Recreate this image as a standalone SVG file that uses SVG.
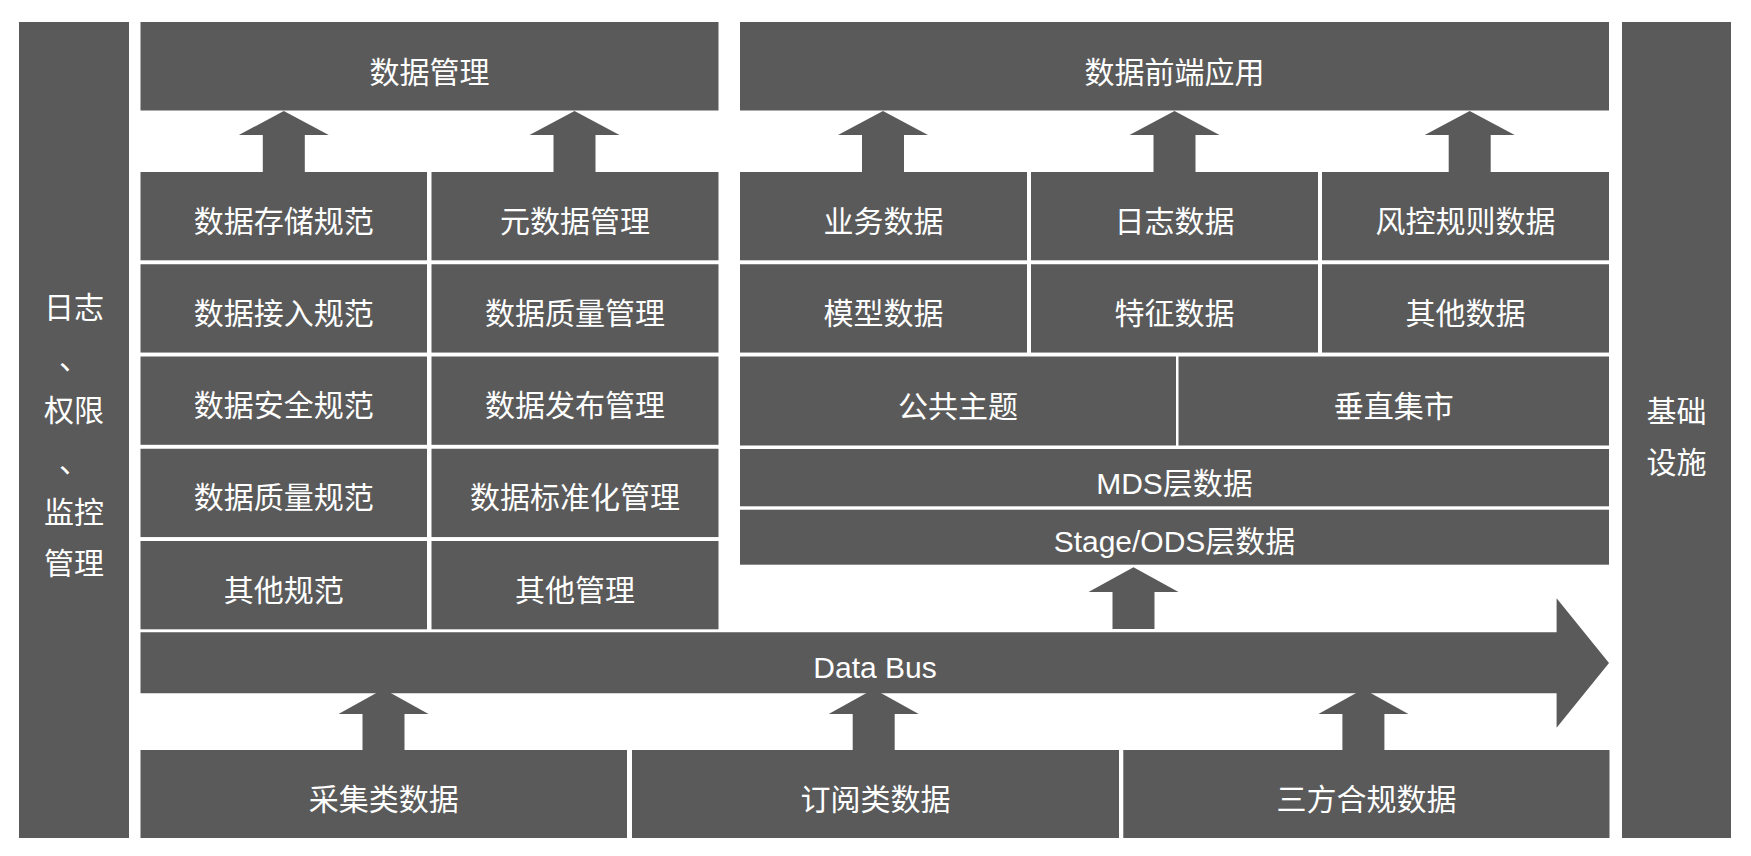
<svg xmlns="http://www.w3.org/2000/svg" width="1751" height="856" viewBox="0 0 1751 856">
<style>
.b{fill:#5a5a5a}
.a{fill:#5a5a5a}
text{fill:#ffffff;font-family:"Liberation Sans","Noto Sans CJK SC",sans-serif;font-size:30px;text-anchor:middle}
</style>
<rect width="1751" height="856" fill="#ffffff"/>
<g id="side-left"><rect class="b" x="19" y="22" width="110" height="816"/>
<text x="74" y="318">日志</text><text x="74" y="369">、</text><text x="74" y="421">权限</text><text x="74" y="472">、</text><text x="74" y="523">监控</text><text x="74" y="574">管理</text></g>
<g id="side-right"><rect class="b" x="1622" y="22" width="109" height="816"/>
<text x="1676.5" y="422">基础</text><text x="1676.5" y="473">设施</text></g>
<g id="data-mgmt"><rect class="b" x="140.5" y="22" width="578" height="88.5"/><text x="429.5" y="83">数据管理</text></g>
<g id="data-frontend"><rect class="b" x="740" y="22" width="869" height="88.5"/><text x="1174.5" y="83">数据前端应用</text></g>
<g id="n-l1a"><rect class="b" x="140.5" y="172" width="286.5" height="88.3"/><text x="283.75" y="231.5">数据存储规范</text></g>
<g id="n-l1b"><rect class="b" x="431.5" y="172" width="287" height="88.3"/><text x="575" y="231.5">元数据管理</text></g>
<g id="n-l2a"><rect class="b" x="140.5" y="264.25" width="286.5" height="88.3"/><text x="283.75" y="323.75">数据接入规范</text></g>
<g id="n-l2b"><rect class="b" x="431.5" y="264.25" width="287" height="88.3"/><text x="575" y="323.75">数据质量管理</text></g>
<g id="n-l3a"><rect class="b" x="140.5" y="356.5" width="286.5" height="88.3"/><text x="283.75" y="416">数据安全规范</text></g>
<g id="n-l3b"><rect class="b" x="431.5" y="356.5" width="287" height="88.3"/><text x="575" y="416">数据发布管理</text></g>
<g id="n-l4a"><rect class="b" x="140.5" y="448.75" width="286.5" height="88.3"/><text x="283.75" y="508.25">数据质量规范</text></g>
<g id="n-l4b"><rect class="b" x="431.5" y="448.75" width="287" height="88.3"/><text x="575" y="508.25">数据标准化管理</text></g>
<g id="n-l5a"><rect class="b" x="140.5" y="541" width="286.5" height="88.3"/><text x="283.75" y="600.5">其他规范</text></g>
<g id="n-l5b"><rect class="b" x="431.5" y="541" width="287" height="88.3"/><text x="575" y="600.5">其他管理</text></g>
<g id="n-r1a"><rect class="b" x="740" y="172" width="287" height="88.3"/><text x="883.5" y="231.5">业务数据</text></g>
<g id="n-r1b"><rect class="b" x="1031" y="172" width="287" height="88.3"/><text x="1174.5" y="231.5">日志数据</text></g>
<g id="n-r1c"><rect class="b" x="1322" y="172" width="287" height="88.3"/><text x="1465.5" y="231.5">风控规则数据</text></g>
<g id="n-r2a"><rect class="b" x="740" y="264.25" width="287" height="88.3"/><text x="883.5" y="323.75">模型数据</text></g>
<g id="n-r2b"><rect class="b" x="1031" y="264.25" width="287" height="88.3"/><text x="1174.5" y="323.75">特征数据</text></g>
<g id="n-r2c"><rect class="b" x="1322" y="264.25" width="287" height="88.3"/><text x="1465.5" y="323.75">其他数据</text></g>
<g id="n-public"><rect class="b" x="740" y="356.5" width="436" height="89"/><text x="958" y="417">公共主题</text></g>
<g id="n-vertical"><rect class="b" x="1178.5" y="356.5" width="430.5" height="89"/><text x="1393.75" y="417">垂直集市</text></g>
<g id="n-mds"><rect class="b" x="740" y="449" width="869" height="57.3"/><text x="1174.5" y="493.5">MDS层数据</text></g>
<g id="n-stage"><rect class="b" x="740" y="509.7" width="869" height="55"/><text x="1174.5" y="552">Stage/ODS层数据</text></g>
<g id="n-bus"><polygon class="b" points="140.5,632.3 1556.6,632.3 1556.6,598.3 1609,663 1556.6,727.7 1556.6,693.3 140.5,693.3"/><text x="875" y="678">Data Bus</text></g>
<g id="n-collect"><rect class="b" x="140.5" y="750" width="486.5" height="88"/><text x="383.75" y="810">采集类数据</text></g>
<g id="n-subscribe"><rect class="b" x="632" y="750" width="487" height="88"/><text x="875.5" y="810">订阅类数据</text></g>
<g id="n-third"><rect class="b" x="1123.3" y="750" width="486.2" height="88"/><text x="1366.5" y="810">三方合规数据</text></g>
<g id="connectors">
<polygon class="a" points="283.8,111 328.8,135 304.8,135 304.8,172 262.8,172 262.8,135 238.8,135"/>
<polygon class="a" points="574.5,111 619.5,135 595.5,135 595.5,172 553.5,172 553.5,135 529.5,135"/>
<polygon class="a" points="883,111 928,135 904,135 904,172 862,172 862,135 838,135"/>
<polygon class="a" points="1174.5,111 1219.5,135 1195.5,135 1195.5,172 1153.5,172 1153.5,135 1129.5,135"/>
<polygon class="a" points="1469.7,111 1514.7,135 1490.7,135 1490.7,172 1448.7,172 1448.7,135 1424.7,135"/>
<polygon class="a" points="1133.5,567.3 1178.5,592 1154.5,592 1154.5,629 1112.5,629 1112.5,592 1088.5,592"/>
<polygon class="a" points="383.5,689 428.5,714 404.5,714 404.5,750 362.5,750 362.5,714 338.5,714"/>
<polygon class="a" points="873.7,689 918.7,714 894.7,714 894.7,750 852.7,750 852.7,714 828.7,714"/>
<polygon class="a" points="1363.4,689 1408.4,714 1384.4,714 1384.4,750 1342.4,750 1342.4,714 1318.4,714"/>
</g>
</svg>
